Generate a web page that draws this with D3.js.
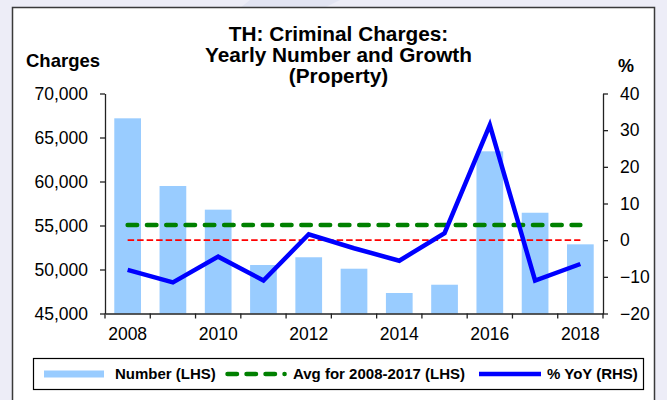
<!DOCTYPE html>
<html>
<head>
<meta charset="utf-8">
<script src="https://cdn.jsdelivr.net/npm/d3@7/dist/d3.min.js"></script>
<style>
  body { margin: 0; background: #ededf7; }
  svg { display: block; font-family: Arial, "Liberation Sans", sans-serif; }
</style>
</head>
<body>
<div id="chart"></div>
<script>
// data
const years = [2008, 2009, 2010, 2011, 2012, 2013, 2014, 2015, 2016, 2017, 2018];
const charges = [67180, 59490, 56800, 50510, 51390, 50090, 47330, 48270, 63430, 56450, 52860];
const yoy = [-8.1, -11.5, -4.5, -11.0, 1.6, -2.2, -5.6, 1.9, 31.4, -11.0, -6.5];
const avgCharges = 55060;
const leftTicks = [45000, 50000, 55000, 60000, 65000, 70000];
const rightTicks = [-20, -10, 0, 10, 20, 30, 40];
const yearLabels = [2008, 2010, 2012, 2014, 2016, 2018];
const titleLines = ["TH: Criminal Charges:", "Yearly Number and Growth", "(Property)"];

const width = 667;
const height = 400;
const plot = { left: 105, right: 603, top: 93.5, bottom: 313.5 };

const svg = d3.select("#chart")
    .append("svg")
    .attr("width", width)
    .attr("height", height);

// faint watermark shape in the background strip
svg.append("path")
    .attr("d", "M250,0 L340,0 L300,20 L225,20 Z")
    .attr("fill", "#e2e4f2");

// chart frame
svg.append("rect")
    .attr("x", 12.5).attr("y", 7.5)
    .attr("width", 642).attr("height", 400)
    .attr("fill", "#fff")
    .attr("stroke", "#3a3a3a")
    .attr("stroke-width", 1.5);

const x = d3.scaleBand()
    .domain(years)
    .range([plot.left, plot.right])
    .padding(0);

const yL = d3.scaleLinear()
    .domain([45000, 70000])
    .range([plot.bottom, plot.top]);

const yR = d3.scaleLinear()
    .domain([-20, 40])
    .range([plot.bottom, plot.top]);

const barFrac = 0.59;

// bars
svg.append("g")
    .selectAll("rect")
    .data(years)
    .enter()
    .append("rect")
    .attr("x", (d) => x(d) + x.bandwidth() * (1 - barFrac) / 2)
    .attr("width", x.bandwidth() * barFrac)
    .attr("y", (d, i) => yL(charges[i]))
    .attr("height", (d, i) => yL(45000) - yL(charges[i]))
    .attr("fill", "#99ccff");

const xc = (d) => x(d) + x.bandwidth() / 2;
const first = years[0];
const last = years[years.length - 1];

// average line (LHS)
svg.append("line")
    .attr("x1", xc(first)).attr("x2", xc(last))
    .attr("y1", yL(avgCharges)).attr("y2", yL(avgCharges))
    .attr("stroke", "#008000")
    .attr("stroke-width", 4.5)
    .attr("stroke-linecap", "round")
    .attr("stroke-dasharray", "9.5,9.8");

// zero line (RHS)
svg.append("line")
    .attr("x1", xc(first)).attr("x2", xc(last))
    .attr("y1", yR(0)).attr("y2", yR(0))
    .attr("stroke", "#ff0000")
    .attr("stroke-width", 1.6)
    .attr("stroke-dasharray", "6.5,3");

// yoy line
const line = d3.line()
    .x((d) => xc(d))
    .y((d, i) => yR(yoy[i]));

svg.append("path")
    .datum(years)
    .attr("d", line)
    .attr("fill", "none")
    .attr("stroke", "#0000ff")
    .attr("stroke-width", 4.5);

// axes
const fmt = d3.format(",");

const gL = svg.append("g")
    .attr("transform", `translate(${plot.left},0)`)
    .call(d3.axisLeft(yL).tickValues(leftTicks).tickFormat(fmt)
        .tickSize(5).tickSizeOuter(0).tickPadding(12));

const gR = svg.append("g")
    .attr("transform", `translate(${plot.right},0)`)
    .call(d3.axisRight(yR).tickValues(rightTicks)
        .tickSize(5).tickSizeOuter(0).tickPadding(12));

const gB = svg.append("g")
    .attr("transform", `translate(0,${plot.bottom})`)
    .call(d3.axisBottom(x).tickValues(yearLabels)
        .tickSize(0).tickPadding(14));

// tick marks between categories
gB.selectAll(".sep")
    .data(years.concat(["end"]))
    .enter()
    .append("line")
    .attr("class", "sep")
    .attr("x1", (d) => d === "end" ? plot.right : x(d))
    .attr("x2", (d) => d === "end" ? plot.right : x(d))
    .attr("y1", 0).attr("y2", 5)
    .attr("stroke", "#222")
    .attr("stroke-width", 1.3);

[gL, gR, gB].forEach((g) => {
    g.attr("font-family", null).attr("font-size", null);
    g.selectAll("path, line").attr("stroke", "#222").attr("stroke-width", 1.3);
    g.selectAll("text").attr("fill", "#000").style("font-size", "17.5px");
});

// titles
svg.append("g")
    .selectAll("text")
    .data(titleLines)
    .enter()
    .append("text")
    .attr("x", 338.5)
    .attr("y", (d, i) => 41 + i * 21)
    .attr("text-anchor", "middle")
    .style("font-size", "20.8px")
    .style("font-weight", "bold")
    .text((d) => d);

svg.append("text")
    .attr("x", 26).attr("y", 67)
    .style("font-size", "18.5px")
    .style("font-weight", "bold")
    .text("Charges");

svg.append("text")
    .attr("x", 618).attr("y", 72)
    .style("font-size", "18px")
    .style("font-weight", "bold")
    .text("%");

// legend
const lg = svg.append("g");
lg.append("rect")
    .attr("x", 33.5).attr("y", 358.5)
    .attr("width", 610).attr("height", 31)
    .attr("fill", "#fff")
    .attr("stroke", "#000")
    .attr("stroke-width", 1.2);

const ly = 374;
lg.append("rect")
    .attr("x", 44).attr("y", ly - 3.5)
    .attr("width", 60).attr("height", 7)
    .attr("fill", "#99ccff");

lg.append("line")
    .attr("x1", 227.5).attr("x2", 284.6)
    .attr("y1", ly).attr("y2", ly)
    .attr("stroke", "#008000")
    .attr("stroke-width", 4.5)
    .attr("stroke-linecap", "round")
    .attr("stroke-dasharray", "9.5,9.5");

lg.append("line")
    .attr("x1", 479).attr("x2", 541)
    .attr("y1", ly).attr("y2", ly)
    .attr("stroke", "#0000ff")
    .attr("stroke-width", 4.5);

const legendText = [
    { x: 115, t: "Number (LHS)" },
    { x: 293, t: "Avg for 2008-2017 (LHS)" },
    { x: 547, t: "% YoY (RHS)" }
];
lg.selectAll("text.lt")
    .data(legendText)
    .enter()
    .append("text")
    .attr("class", "lt")
    .attr("x", (d) => d.x)
    .attr("y", 379)
    .style("font-size", "15px")
    .style("font-weight", "bold")
    .text((d) => d.t);
</script>
</body>
</html>
